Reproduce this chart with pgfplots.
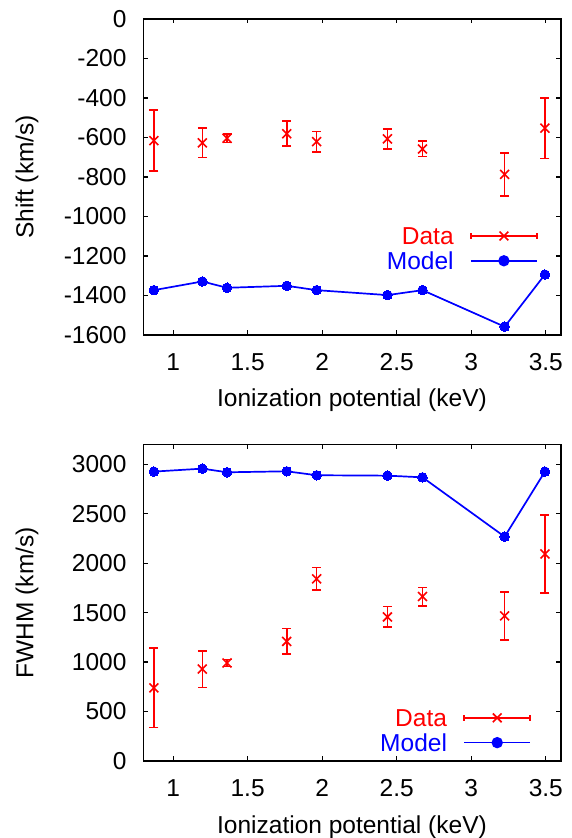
\documentclass[border=0pt]{standalone}
\usepackage{fontspec}
\setmainfont{Liberation Sans}
\usepackage{pgfplots}
\usepackage{pgfplotstable}
\pgfplotsset{compat=1.18}
\newcommand{\fs}{\fontsize{24.5}{29}\selectfont}

\pgfplotstableread{
x      y      e
0.871  -616   154
1.196  -627   74
1.362  -604   22
1.762  -581   63
1.963  -621   51
2.438  -607   51
2.673  -658   39
3.224  -787   108
3.494  -553   153
}\shiftdata
\pgfplotstableread{
x      y
0.871  -1373
1.196  -1329
1.362  -1361
1.762  -1351
1.963  -1373
2.438  -1398
2.673  -1373
3.224  -1558
3.494  -1294
}\shiftmodel
\pgfplotstableread{
x      y      e
0.871  740    400
1.196  930    185
1.362  991    37
1.762  1209   130
1.963  1842   113
2.438  1457   105
2.673  1663   93
3.224  1467   243
3.494  2093   395
}\fwhmdata
\pgfplotstableread{
x      y
0.871  2926
1.196  2956
1.362  2919
1.762  2929
1.963  2889
2.438  2885
2.673  2868
3.224  2268
3.494  2926
}\fwhmmodel

\pgfplotsset{
  myaxis/.style={
    scale only axis, width=417.4pt,
    xmin=0.8, xmax=3.6,
    xtick={1,1.5,2,2.5,3,3.5}, xticklabels={1,1.5,2,2.5,3,3.5},
    axis line style={line width=1.6pt, black},
    every tick/.style={line width=1.2pt, black},
    major tick length=4.5pt,
    tick align=inside,
    tick label style={font=\fs, inner sep=0pt},
    xticklabel style={anchor=base, yshift=-35.5pt},
    yticklabel style={anchor=east, xshift=-16.6pt},
    xlabel={Ionization potential (keV)},
    every axis x label/.style={at={([yshift=-72pt]axis description cs:0.5,0)}, anchor=base, font=\fs},
    every axis y label/.style={at={([xshift=-110pt]axis description cs:0,0.5)}, anchor=base, rotate=90, font=\fs},
    legend cell align=right, legend plot pos=right,
    legend style={draw=none, fill=none, font=\fs, inner sep=0pt, outer sep=0pt,
      nodes={inner sep=0pt, text depth=0pt}, row sep=7.5pt, anchor=north east,
      column sep=16.4pt},
  },
  datastyle/.style={red, only marks, mark=x, mark size=6.3pt, line width=1.6pt,
    mark options={line width=1.6pt},
    legend image code/.code={
      \draw[red, line width=1.6pt] (0pt,0pt) -- (66pt,0pt);
      \draw[red, line width=1.6pt] (0pt,-3pt) -- (0pt,3pt) (66pt,-3pt) -- (66pt,3pt);
      \draw[red, line width=1.6pt] (33pt,0pt) +(-4.4pt,-4.4pt) -- +(4.4pt,4.4pt) +(-4.4pt,4.4pt) -- +(4.4pt,-4.4pt);
    },
    error bars/.cd, y dir=both, y explicit,
    error bar style={line width=1.6pt, red},
    error mark options={rotate=90, mark size=4.5pt, line width=1.6pt, red}},
  modelstyle/.style={blue, line width=1.7pt, mark=*, mark size=4.8pt,
    mark options={fill=blue, line width=0pt},
    legend image code/.code={
      \draw[blue, line width=1.7pt] (0pt,0pt) -- (66pt,0pt);
      \fill[blue] (33pt,0pt) circle (4.8pt);
    }},
}

\begin{document}
\begin{tikzpicture}
\useasboundingbox (0,0) rectangle (571pt,838pt);
\begin{axis}[myaxis, at={(143.3pt,503pt)}, anchor=south west, height=316pt,
  ymin=-1600, ymax=0,
  ytick={-1600,-1400,-1200,-1000,-800,-600,-400,-200,0},
  yticklabels={-1600,-1400,-1200,-1000,-800,-600,-400,-200,0},
  ylabel={Shift (km/s)},
  legend style={at={(axis description cs:0.945,0.340)}}]
\addplot[datastyle] table[x=x, y=y, y error=e] {\shiftdata};
\addlegendentry{\textcolor{red}{Data}}
\addplot[modelstyle] table[x=x, y=y] {\shiftmodel};
\addlegendentry{\textcolor{blue}{Model}}
\end{axis}
\begin{axis}[myaxis, at={(143.3pt,77pt)}, anchor=south west, height=316.5pt,
  ymin=0, ymax=3200,
  ytick={0,500,1000,1500,2000,2500,3000},
  yticklabels={0,500,1000,1500,2000,2500,3000},
  ylabel={FWHM (km/s)},
  legend style={at={(axis description cs:0.929,0.163)}}]
\addplot[datastyle] table[x=x, y=y, y error=e] {\fwhmdata};
\addlegendentry{\textcolor{red}{Data}}
\addplot[modelstyle] table[x=x, y=y] {\fwhmmodel};
\addlegendentry{\textcolor{blue}{Model}}
\end{axis}
\end{tikzpicture}
\end{document}
